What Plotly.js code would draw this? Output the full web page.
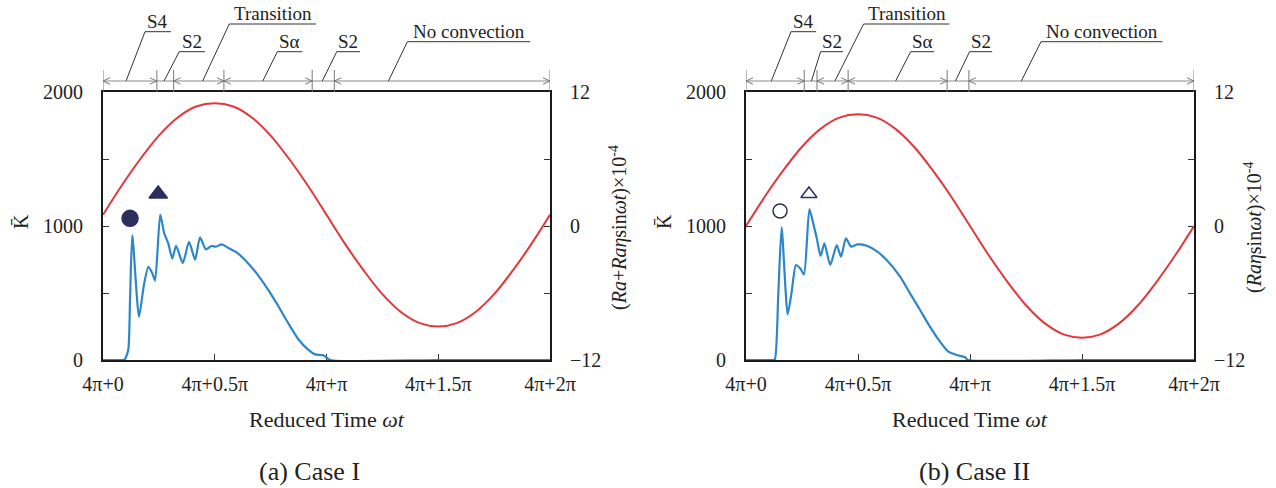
<!DOCTYPE html>
<html>
<head>
<meta charset="utf-8">
<script src="https://cdn.plot.ly/plotly-3.0.1.min.js"></script>
<style>
  html, body { margin: 0; padding: 0; background: #fff; }
  #chart { width: 1276px; height: 488px; }
</style>
</head>
<body>
<div id="chart"></div>
<script>
// Reduced time within one forcing period, in units of pi (4π + phase·π)
const phaseGrid = [0, 0.083, 0.167, 0.25, 0.333, 0.417, 0.5, 0.583, 0.667, 0.75, 0.833, 0.917,
  1, 1.083, 1.167, 1.25, 1.333, 1.417, 1.5, 1.583, 1.667, 1.75, 1.833, 1.917, 2];

// Forcing (×10^4): Case I = Ra + Raη·sin ωt, Case II = Raη·sin ωt
const forcingCaseI = [1.0, 3.6, 6.0, 8.1, 9.7, 10.7, 11.0, 10.7, 9.7, 8.1, 6.0, 3.6,
  1.0, -1.6, -4.0, -6.1, -7.7, -8.7, -9.0, -8.7, -7.7, -6.1, -4.0, -1.6, 1.0];
const forcingCaseII = [0, 2.6, 5.0, 7.1, 8.7, 9.7, 10.0, 9.7, 8.7, 7.1, 5.0, 2.6,
  0, -2.6, -5.0, -7.1, -8.7, -9.7, -10.0, -9.7, -8.7, -7.1, -5.0, -2.6, 0];

// Mean kinetic energy K̄, Case I
const phaseKCaseI = [0, 0.09, 0.098, 0.113, 0.121, 0.131, 0.161, 0.183, 0.203, 0.22, 0.233,
  0.256, 0.274, 0.292, 0.310, 0.327, 0.357, 0.385, 0.412, 0.434, 0.460, 0.486, 0.506,
  0.531, 0.561, 0.598, 0.650, 0.695, 0.740, 0.780, 0.829, 0.874, 0.919, 0.949, 0.986,
  1.016, 1.5, 2];
const kCaseI = [0, 0, 5, 75, 448, 933, 323, 560, 696, 650, 592,
  1085, 945, 870, 757, 851, 724, 882, 748, 915, 826, 851, 846,
  863, 836, 803, 721, 630, 522, 415, 274, 155, 75, 42, 35,
  0, 0, 0];

// Mean kinetic energy K̄, Case II
const phaseKCaseII = [0, 0.12, 0.129, 0.144, 0.159, 0.186, 0.204, 0.223, 0.244, 0.259,
  0.283, 0.300, 0.316, 0.333, 0.350, 0.376, 0.405, 0.424, 0.446, 0.469, 0.497, 0.539,
  0.583, 0.628, 0.688, 0.732, 0.777, 0.821, 0.866, 0.903, 0.941, 0.978, 0.992, 1.5, 2];
const kCaseII = [0, 0, 5, 485, 990, 341, 510, 709, 679, 639,
  1127, 1020, 908, 776, 871, 709, 858, 771, 908, 846, 863, 853,
  813, 746, 622, 498, 373, 249, 137, 62, 37, 20, 0, 0, 0];

// Event markers (phase, K̄): first burst and second burst
const burstOneCaseI = [0.121, 1057];
const burstTwoCaseI = [0.247, 1239];
const burstOneCaseII = [0.152, 1112];
const burstTwoCaseII = [0.281, 1239];

// Flow regimes along the period
const stageNames = ['S4', 'S2', 'Transition', 'Sα', 'S2', 'No convection'];
const stageBoundsCaseI = [0, 0.241, 0.316, 0.541, 0.936, 1.035, 2];
const stageBoundsCaseII = [0, 0.260, 0.317, 0.456, 0.898, 0.995, 2];

// Axis tick labels
const xTickVals = [0, 0.5, 1, 1.5, 2];
const xTickText = ['4π+0', '4π+0.5π', '4π+π', '4π+1.5π', '4π+2π'];
const kTickVals = [0, 1000, 2000];
const fTickVals = [-12, 0, 12];

// ---- drawing ----
const W = 1276, H = 488;
const FONT = '"Liberation Serif", "Times New Roman", serif';
const BLUE = '#2c87c9';
const RED = '#e4363d';
const NAVY = '#2c2e5c';
const INK = '#222';
const px = v => v / W;          // pixel column -> paper x
const py = v => 1 - v / H;      // pixel row -> paper y
const font = size => ({ family: FONT, size: size, color: INK });

const plotTop = 92, plotBottom = 360;
const panels = [
  { x: 'x', y: 'y', y2: 'y2', left: 103, right: 550,
    k: [phaseKCaseI, kCaseI], f: forcingCaseI, bounds: stageBoundsCaseI,
    m1: burstOneCaseI, m2: burstTwoCaseI, open: false,
    fTitle: '(<i>Ra</i>+<i>Ra</i><i>η</i>sin<i>ωt</i>)×10<sup>-4</sup>',
    caption: '(a) Case I', captionX: 309, kTitleX: 21, fTitleX: 619,
    // leader geometry per stage: [foot, elbow, end] in phase units, underline row in px
    leaders: [[0.103, 0.188, 0.304, 31.7], [0.273, 0.341, 0.456, 51.7], [0.446, 0.565, 0.953, 24],
              [0.715, 0.780, 0.892, 51.7], [0.981, 1.046, 1.150, 51.7], [1.277, 1.362, 1.911, 41.7]] },
  { x: 'x2', y: 'y3', y2: 'y4', left: 746, right: 1194,
    k: [phaseKCaseII, kCaseII], f: forcingCaseII, bounds: stageBoundsCaseII,
    m1: burstOneCaseII, m2: burstTwoCaseII, open: true,
    fTitle: '(<i>Ra</i><i>η</i>sin<i>ωt</i>)×10<sup>-4</sup>',
    caption: '(b) Case II', captionX: 974, kTitleX: 664, fTitleX: 1254,
    leaders: [[0.113, 0.201, 0.313, 31.7], [0.292, 0.333, 0.433, 51.7], [0.397, 0.525, 0.908, 24],
              [0.668, 0.735, 0.839, 51.7], [0.935, 0.998, 1.099, 51.7], [1.229, 1.317, 1.859, 41.7]] }
];
const stageArrows = [true, false, true, true, false, true];

const traces = [];
const shapes = [];
const annotations = [];
const layout = {
  width: W, height: H,
  margin: { l: 0, r: 0, t: 0, b: 0 },
  paper_bgcolor: '#fff', plot_bgcolor: '#fff',
  showlegend: false,
  font: font(20)
};

const axisName = id => id.replace(/^([xy])(\d*)$/, (m, a, n) => a + 'axis' + n);
const text = (x, y, t, size, extra) => Object.assign({
  xref: 'paper', yref: 'paper', x: x, y: y, text: t, showarrow: false,
  xanchor: 'center', yanchor: 'middle', font: font(size)
}, extra || {});

panels.forEach(p => {
  const dom = [px(p.left), px(p.right)];
  const yDom = [py(plotBottom), py(plotTop)];
  const phasePerPx = 2 / (p.right - p.left);
  const common = {
    ticks: 'inside', ticklen: 6, tickcolor: '#333', tickwidth: 1,
    showline: true, linecolor: '#1a1a1a', linewidth: 2,
    showgrid: false, zeroline: false, layer: 'below traces',
    tickfont: font(20)
  };
  const minor = step => ({ dtick: step, tick0: 0, ticks: 'inside', ticklen: 6,
    tickcolor: '#333', tickwidth: 1, showgrid: false });

  layout[axisName(p.x)] = Object.assign({}, common, {
    domain: dom, range: [0, 2], anchor: p.y, mirror: true,
    tickvals: xTickVals, ticktext: xTickText, ticklabelstandoff: 5
  });
  layout[axisName(p.y)] = Object.assign({}, common, {
    domain: yDom, range: [0, 2000], anchor: p.x,
    tickmode: 'array', tickvals: kTickVals, minor: minor(500), ticklabelstandoff: 14
  });
  layout[axisName(p.y2)] = Object.assign({}, common, {
    overlaying: p.y, side: 'right', anchor: p.x, range: [-12, 12],
    tickmode: 'array', tickvals: fTickVals, minor: minor(6), ticklabelstandoff: 14
  });

  // forcing curve
  traces.push({
    x: phaseGrid, y: p.f, xaxis: p.x, yaxis: p.y2, type: 'scatter', mode: 'lines',
    line: { color: RED, width: 2, shape: 'spline', smoothing: 1 }, hoverinfo: 'skip'
  });
  // kinetic energy
  traces.push({
    x: p.k[0], y: p.k[1], xaxis: p.x, yaxis: p.y, type: 'scatter', mode: 'lines',
    line: { color: BLUE, width: 2.2, shape: 'spline', smoothing: 0.6 }, cliponaxis: false,
    hoverinfo: 'skip'
  });
  // burst markers
  traces.push({
    x: [p.m1[0]], y: [p.m1[1]], xaxis: p.x, yaxis: p.y, type: 'scatter', mode: 'markers',
    marker: { symbol: p.open ? 'circle-open' : 'circle', size: p.open ? 14 : 16, color: NAVY,
              line: { color: NAVY, width: 1.5 } }, hoverinfo: 'skip'
  });
  traces.push({
    x: [p.m2[0]], y: [p.m2[1]], xaxis: p.x, yaxis: p.y, type: 'scatter', mode: 'markers',
    marker: { symbol: p.open ? 'triangle-up-open' : 'triangle-up', size: p.open ? 14 : 16, color: NAVY,
              line: { color: NAVY, width: 1.5 } }, hoverinfo: 'skip'
  });

  // regime bar above the plot
  const arrowRow = 81, tickTop = 70;
  const headLen = 7 * phasePerPx, headHalf = 3.2 / H;
  const yA = py(arrowRow);
  shapes.push({ type: 'line', xref: p.x, yref: 'paper', x0: 0, x1: 2,
    y0: yA, y1: yA, line: { color: '#8a8a8a', width: 1 } });
  p.bounds.forEach(b => {
    shapes.push({ type: 'line', xref: p.x, yref: 'paper', x0: b, x1: b,
      y0: py(plotTop), y1: py(tickTop), line: { color: '#777', width: 1 } });
  });
  stageNames.forEach((name, i) => {
    const a = p.bounds[i], b = p.bounds[i + 1];
    if (stageArrows[i]) {
      [[a, 1], [b, -1]].forEach(([tip, dir]) => {
        const back = tip + dir * headLen;
        shapes.push({ type: 'path', xref: p.x, yref: 'paper',
          path: `M ${back},${yA + headHalf} L ${tip},${yA} L ${back},${yA - headHalf}`,
          line: { color: '#777', width: 1 } });
      });
    }
    const [foot, elbow, end, row] = p.leaders[i];
    shapes.push({ type: 'line', xref: p.x, yref: 'paper', x0: foot, x1: elbow,
      y0: yA, y1: py(row), line: { color: '#333', width: 1 } });
    shapes.push({ type: 'line', xref: p.x, yref: 'paper', x0: elbow, x1: end,
      y0: py(row), y1: py(row), line: { color: '#333', width: 1 } });
    annotations.push({
      xref: p.x, yref: 'paper', x: (elbow + end) / 2, y: py(row),
      xanchor: 'center', yanchor: 'bottom',
      text: name, showarrow: false, yshift: -2, font: font(19)
    });
  });

  // axis titles and caption
  annotations.push(text(px(p.kTitleX), py(222), 'K\u0304', 20, { textangle: -90 }));
  annotations.push(text(px(p.fTitleX), py(228), p.fTitle, 20, { textangle: -90 }));
  annotations.push(text((dom[0] + dom[1]) / 2, py(419), 'Reduced Time <i>ωt</i>', 22));
  annotations.push(text(px(p.captionX), py(471), p.caption, 26));
});

layout.shapes = shapes;
layout.annotations = annotations;

Plotly.newPlot('chart', traces, layout, { displayModeBar: false, staticPlot: true });
</script>
</body>
</html>
